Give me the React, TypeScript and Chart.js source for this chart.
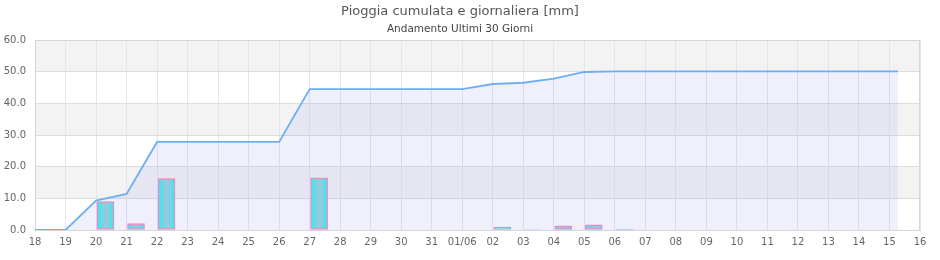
import React, { useEffect, useRef } from "react";
import { Chart, registerables } from "chart.js";

Chart.register(...registerables);

const dayLabels = [
  "18", "19", "20", "21", "22", "23", "24", "25", "26", "27", "28", "29", "30", "31",
  "01/06", "02", "03", "04", "05", "06", "07", "08", "09", "10", "11", "12", "13", "14", "15", "16",
];

// daily rain (bars): day index and mm
const barDays = [2, 3, 4, 9, 15, 16, 17, 18, 19];
const barValues = [9.0, 2.0, 16.2, 16.5, 0.9, 0.15, 1.3, 1.6, 0.2];
const barOffset = 0.31; // bar sits inside its day

// cumulative rain (line)
const lineDays = [0, 1, 2, 3, 4, 5, 6, 7, 8, 9, 10, 11, 12, 13, 14, 15, 16, 17, 18, 19, 20, 21, 22, 23, 24, 25, 26, 27, 28, 28.28];
const lineValues = [
  0, 0, 9.3, 11.4, 27.8, 27.8, 27.8, 27.8, 27.8, 44.5, 44.5, 44.5, 44.5, 44.5, 44.5,
  46.1, 46.5, 47.8, 49.9, 50.1, 50.1, 50.1, 50.1, 50.1, 50.1, 50.1, 50.1, 50.1, 50.1, 50.1,
];

const yTicks = [0, 10, 20, 30, 40, 50, 60];

const FONT = "'DejaVu Sans', Verdana, sans-serif";

const bandsPlugin = {
  id: "bands",
  beforeDraw(chart: any) {
    const { ctx, chartArea, scales } = chart;
    const y = scales.y;
    ctx.save();
    for (let i = 0; i < yTicks.length - 1; i++) {
      const top = y.getPixelForValue(yTicks[i + 1]);
      const bot = y.getPixelForValue(yTicks[i]);
      ctx.fillStyle = i % 2 === 1 ? "#f3f3f3" : "#ffffff";
      ctx.fillRect(chartArea.left, top, chartArea.right - chartArea.left, bot - top);
    }
    ctx.restore();
  },
  beforeDatasetsDraw(chart: any) {
    const { ctx, chartArea } = chart;
    ctx.save();
    ctx.strokeStyle = "#d6d6d6";
    ctx.lineWidth = 1;
    ctx.strokeRect(chartArea.left + 0.5, chartArea.top + 0.5, chartArea.right - chartArea.left - 1, chartArea.bottom - chartArea.top);
    ctx.restore();
  },
};

export default function App() {
  const ref = useRef<HTMLCanvasElement | null>(null);

  useEffect(() => {
    if (!ref.current) return;
    const barData = barDays.map((d, i) => ({ x: d + barOffset, y: barValues[i] }));
    const lineData = lineDays.map((d, i) => ({ x: d, y: lineValues[i] }));

    const chart = new Chart(ref.current, {
      data: {
        datasets: [
          {
            type: "bar",
            label: "Giornaliera",
            data: barData,
            order: 0,
            barThickness: 17,
            borderColor: "#ff80c0",
            borderWidth: 1.3,
            borderSkipped: false,
            backgroundColor: (context: any) => {
              const c = context.chart;
              const el = context.element;
              const sx = c.scales && c.scales.x;
              if (context.type !== "data" || !sx || !context.raw) return "#99c8dc";
              const cx = sx.getPixelForValue(context.raw.x);
              if (!Number.isFinite(cx) || cx < sx.left - 1 || cx > sx.right + 1) return "#99c8dc";
              const g = c.ctx.createLinearGradient(cx - 8.5, 0, cx + 8.5, 0);
              g.addColorStop(0, "#22f2f2");
              g.addColorStop(0.45, "#99c8dc");
              g.addColorStop(0.6, "#99c8dc");
              g.addColorStop(1, "#22f2f2");
              return g;
            },
          } as any,
          {
            type: "line",
            label: "Cumulata",
            data: lineData,
            order: 1,
            borderColor: "#6cb0f2",
            borderWidth: 1.8,
            pointRadius: 0,
            tension: 0,
            fill: "origin",
            backgroundColor: "rgba(160,160,240,0.16)",
          } as any,
        ],
      },
      options: {
        animation: false,
        responsive: true,
        maintainAspectRatio: false,
        layout: { padding: { left: 0, right: 20, top: 0, bottom: 0 } },
        plugins: {
          legend: { display: false },
          tooltip: { enabled: false },
          title: {
            display: true,
            text: "Pioggia cumulata e giornaliera [mm]",
            color: "#555",
            font: { family: FONT, size: 13, weight: "normal" as any, lineHeight: 1.2 },
            padding: { top: 3.5, bottom: 4 },
          },
          subtitle: {
            display: true,
            text: "Andamento Ultimi 30 Giorni",
            color: "#444",
            font: { family: FONT, size: 10.5, weight: "normal" as any, lineHeight: 1.2 },
            padding: { top: 0, bottom: 4.3 },
          },
        },
        scales: {
          x: {
            type: "linear",
            offset: false,
            min: 0,
            max: dayLabels.length - 1,
            afterFit: (s: any) => {
              s.height = 30;
            },
            ticks: {
              stepSize: 1,
              autoSkip: false,
              maxRotation: 0,
              padding: 6,
              color: "#666",
              font: { family: FONT, size: 10 },
              callback: (v: any) => dayLabels[Math.round(Number(v))] ?? "",
            },
            grid: { color: "#e4e4f6", drawTicks: false, offset: false },
            border: { display: true, color: "#cfcfcf" },
          },
          y: {
            type: "linear",
            min: yTicks[0],
            max: yTicks[yTicks.length - 1],
            afterFit: (s: any) => {
              s.width = 35;
            },
            ticks: {
              stepSize: 10,
              padding: 9,
              color: "#666",
              font: { family: FONT, size: 10 },
              callback: (v: any) => Number(v).toFixed(1),
            },
            grid: { color: "#dddddd", drawTicks: false },
            border: { display: true, color: "#d6d6d6" },
          },
        },
      },
      plugins: [bandsPlugin],
    } as any);

    return () => chart.destroy();
  }, []);

  return (
    <div style={{ position: "fixed", left: 0, top: 0, width: 940, height: 260, background: "#fff" }}>
      <canvas ref={ref} />
    </div>
  );
}
